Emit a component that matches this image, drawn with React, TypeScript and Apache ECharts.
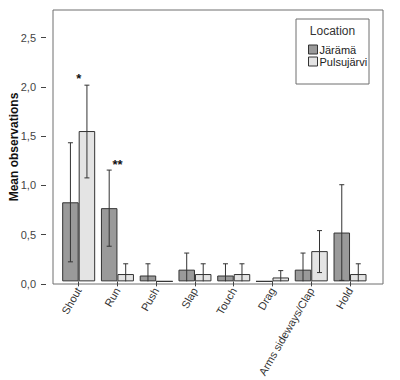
import React, { useEffect, useRef } from "react";
import * as echarts from "echarts";

const categories = ["Shout", "Run", "Push", "Slap", "Touch", "Drag", "Arms sideways/Clap", "Hold"];
const seriesNames = ["Järämä", "Pulsujärvi"];
const jaramaMean = [0.81, 0.75, 0.06, 0.12, 0.06, 0, 0.12, 0.5];
const jaramaLow = [0.2, 0.36, -0.06, -0.05, -0.06, 0, -0.05, 0.01];
const jaramaHigh = [1.42, 1.14, 0.18, 0.29, 0.18, 0, 0.29, 0.99];
const pulsuMean = [1.54, 0.075, 0, 0.075, 0.075, 0.04, 0.31, 0.075];
const pulsuLow = [1.06, -0.03, 0, -0.03, -0.03, -0.03, 0.09, -0.03];
const pulsuHigh = [2.01, 0.18, 0, 0.18, 0.18, 0.11, 0.52, 0.18];
const starLabels = ["*", "**", "", "", "", "", "", ""];
const starValues = [2.08, 1.2, null, null, null, null, null, null];
const yTicks = [0, 0.5, 1, 1.5, 2, 2.5];
const yMax = 2.78;

const FONT = 'Arial, "Liberation Sans", sans-serif';
const BAR_W = 16.5;
const PLOT_TOP = 10;
const PLOT_BOTTOM = 96;
const PLOT_H = 380 - PLOT_TOP - PLOT_BOTTOM;
const tickTop = PLOT_TOP + PLOT_H * (1 - yTicks[yTicks.length - 1] / yMax);

function errorSeries(low: number[], high: number[], offset: number) {
  return {
    type: "custom",
    xAxisIndex: 1,
    yAxisIndex: 1,
    z: 5,
    data: low.map((l, i) => [i, l, high[i]]),
    renderItem: (params: any, api: any) => {
      const i = api.value(0);
      const lo = api.value(1);
      const hi = api.value(2);
      if (hi - lo <= 0) return null;
      const pHi = api.coord([i, hi]);
      const pLo = api.coord([i, Math.max(lo, 0)]);
      const x = pHi[0] + offset;
      const cap = 2.5;
      const style = { stroke: "#333", lineWidth: 1 };
      const children: any[] = [
        { type: "line", shape: { x1: x, y1: pHi[1], x2: x, y2: pLo[1] }, style },
        { type: "line", shape: { x1: x - cap, y1: pHi[1], x2: x + cap, y2: pHi[1] }, style },
      ];
      if (lo > 0) {
        children.push({ type: "line", shape: { x1: x - cap, y1: pLo[1], x2: x + cap, y2: pLo[1] }, style });
      }
      return { type: "group", children };
    },
  };
}

export default function App() {
  const ref = useRef<HTMLDivElement>(null);
  useEffect(() => {
    if (!ref.current) return;
    const chart = echarts.init(ref.current, null, { renderer: "svg" });
    chart.setOption({
      animation: false,
      backgroundColor: "#fff",
      textStyle: { fontFamily: FONT },
      grid: [
        { left: 46, right: 17, top: PLOT_TOP, bottom: PLOT_BOTTOM, show: true, borderColor: "#6e6e6e", borderWidth: 1, backgroundColor: "transparent" },
        { left: 59.3, right: 30.6, top: PLOT_TOP, bottom: PLOT_BOTTOM },
        { left: 46, width: 1, top: tickTop, bottom: PLOT_BOTTOM },
      ],
      xAxis: [
        { gridIndex: 0, type: "value", show: false, min: 0, max: 1 },
        {
          gridIndex: 1,
          type: "category",
          data: categories,
          axisLine: { show: false },
          axisTick: { show: true, alignWithLabel: true, length: 5, lineStyle: { color: "#444" } },
          axisLabel: { rotate: 60, margin: 7, fontSize: 11, color: "#333", fontFamily: FONT, interval: 0 },
        },
        { gridIndex: 2, type: "value", show: false, min: 0, max: 1 },
      ],
      yAxis: [
        {
          gridIndex: 0,
          type: "value",
          min: 0,
          max: yMax,
          name: "Mean observations",
          nameLocation: "middle",
          nameRotate: 90,
          nameGap: 33,
          nameTextStyle: { fontSize: 12, fontWeight: "bold", color: "#111", fontFamily: FONT },
          axisLine: { show: false },
          axisTick: { show: false },
          axisLabel: { show: false },
          splitLine: { show: false },
        },
        { gridIndex: 1, type: "value", min: 0, max: yMax, show: false, splitLine: { show: false } },
        {
          gridIndex: 2,
          type: "value",
          min: 0,
          max: yTicks[yTicks.length - 1],
          interval: 0.5,
          axisLine: { show: false },
          axisTick: { show: true, length: 5, lineStyle: { color: "#444" } },
          axisLabel: {
            fontSize: 11,
            color: "#444",
            margin: 10,
            fontFamily: FONT,
            formatter: (v: number) => v.toFixed(1).replace(".", ","),
          },
          splitLine: { show: false },
        },
      ],
      legend: {
        left: 303,
        top: 39,
        orient: "vertical",
        itemWidth: 9,
        itemHeight: 9,
        itemGap: 1,
        itemStyle: { borderColor: "#333", borderWidth: 1 },
        textStyle: { fontSize: 11, color: "#222", fontFamily: FONT, padding: [0, 0, 0, -3] },
        data: seriesNames,
        icon: "rect",
      },
      graphic: [
        { type: "rect", shape: { x: 296, y: 19, width: 73, height: 65 }, style: { fill: "#fff", stroke: "#6e6e6e", lineWidth: 1 }, z: 1 },
        { type: "text", x: 332.5, y: 31, style: { text: "Location", fontSize: 12, fill: "#333", fontFamily: FONT, align: "center", verticalAlign: "middle" }, z: 2 },
      ],
      series: [
        {
          name: seriesNames[0],
          type: "bar",
          xAxisIndex: 1,
          yAxisIndex: 1,
          data: jaramaMean,
          barWidth: BAR_W,
          barGap: "0%",
          itemStyle: { color: "#9a9a9a", borderColor: "#333", borderWidth: 1 },
        },
        {
          name: seriesNames[1],
          type: "bar",
          xAxisIndex: 1,
          yAxisIndex: 1,
          data: pulsuMean,
          barWidth: BAR_W,
          barGap: "0%",
          itemStyle: { color: "#e4e4e4", borderColor: "#333", borderWidth: 1 },
        },
        errorSeries(jaramaLow, jaramaHigh, -BAR_W / 2),
        errorSeries(pulsuLow, pulsuHigh, BAR_W / 2),
        {
          type: "custom",
          xAxisIndex: 1,
          yAxisIndex: 1,
          z: 6,
          data: starValues.map((v, i) => [i, v, starLabels[i]]),
          renderItem: (params: any, api: any) => {
            const i = params.dataIndex;
            const v = starValues[i];
            if (v == null || !starLabels[i]) return null;
            const p = api.coord([i, v]);
            return {
              type: "text",
              x: p[0],
              y: p[1],
              style: { text: starLabels[i], fontSize: 13, fontWeight: "bold", fill: "#111", align: "center", verticalAlign: "middle", fontFamily: FONT },
            };
          },
        },
      ],
    });
    return () => chart.dispose();
  }, []);
  return <div ref={ref} style={{ position: "fixed", left: 0, top: 0, width: 400, height: 380 }} />;
}
